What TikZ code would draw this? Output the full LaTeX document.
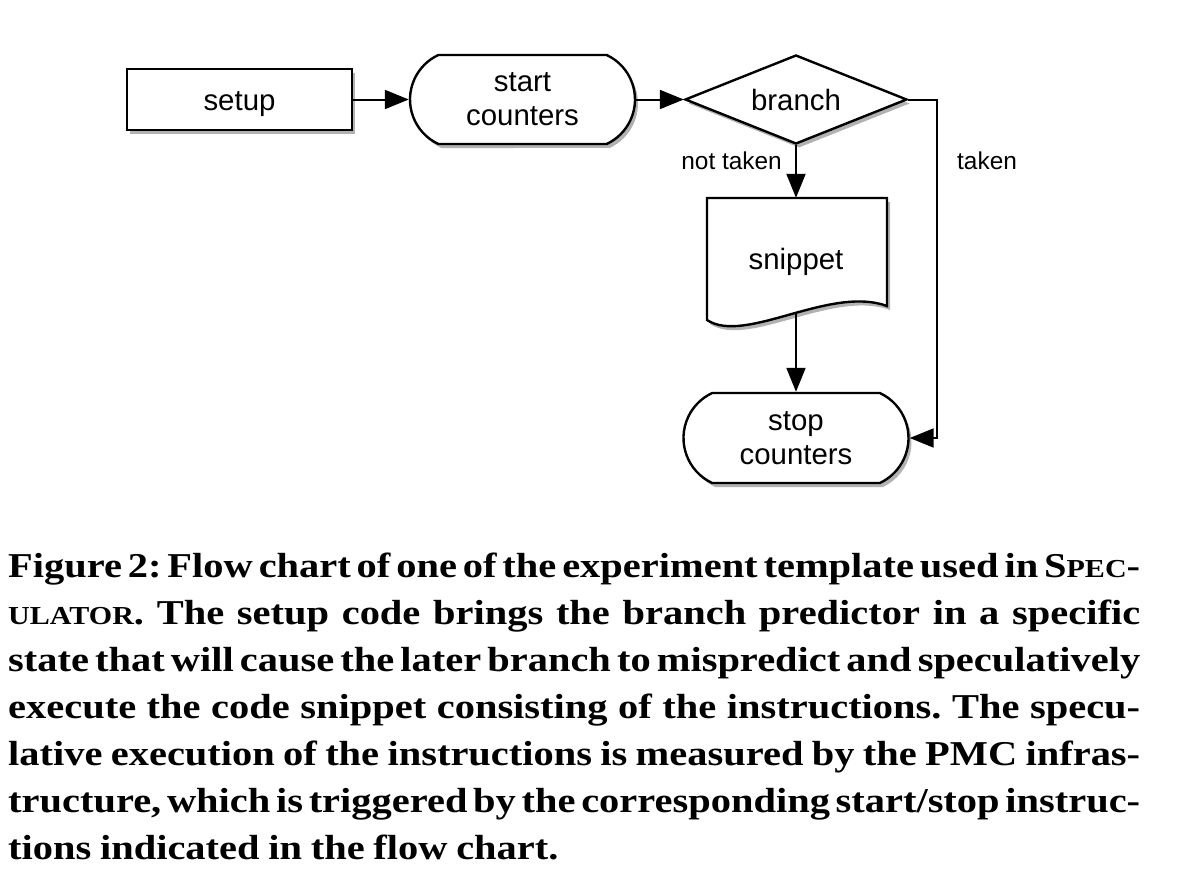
\documentclass[tikz,border=0pt]{standalone}
\usepackage{fontspec}
\setmainfont{Liberation Serif}[FakeStretch=1.16]
\newfontfamily\lsans{Liberation Sans}
\usetikzlibrary{arrows.meta,shapes.geometric,shapes.misc,shadows}
\newcommand\boxfont{\lsans\fontsize{29.5}{34}\selectfont}
\newcommand\lblfont{\lsans\fontsize{24.5}{28}\selectfont}
\newcommand\capfont{\bfseries\frenchspacing\fontsize{35}{47}\selectfont\spaceskip=.25em plus .3em minus .12em\relax}
\newcommand\fsc[1]{{\fontsize{26}{26}\selectfont #1}}
\newcommand\capline[1]{\hbox to 1132bp{#1}}
\begin{document}
\begin{tikzpicture}[x=1bp,y=-1bp,
  shadowed/.style={drop shadow={shadow xshift=3bp,shadow yshift=-4bp,opacity=0.3,fill=black}},
  boxstyle/.style={draw,line width=2.4bp,fill=white,font=\boxfont,align=center,inner sep=0pt,shadowed},
  pillbox/.style={boxstyle,rounded rectangle,rounded rectangle arc length=130},
  conn/.style={line width=2bp,-{Triangle[length=24bp,width=19bp]}},
  lbl/.style={font=\lblfont,inner sep=0pt},
  capl/.style={anchor=base west,inner sep=0pt,font=\capfont}]
\useasboundingbox (0,0) rectangle (1198,886);
\fill[white] (0,0) rectangle (1198,886);

% nodes
\node[boxstyle,rectangle,minimum width=225bp,minimum height=61bp] (setup) at (239.5,99.5) {\raisebox{-11bp}[0pt][0pt]{setup}};
\node[pillbox,minimum width=225bp,minimum height=89bp] (start) at (522.5,99.5) {start\\counters};
\node[boxstyle,diamond,aspect=2.5,minimum width=222bp,minimum height=89bp] (branch) at (796,99.5) {branch};

% snippet document shape
\fill[black,opacity=0.3,xshift=3bp,yshift=-4bp] (707,198) -- (887,198) -- (887,306) .. controls (830,285) and (745,345) .. (707,320) -- cycle;
\draw[line width=2.4bp,fill=white] (707,198) -- (887,198) -- (887,306) .. controls (830,285) and (745,345) .. (707,320) -- cycle;
\node[draw=none,minimum width=180bp,minimum height=128bp,font=\boxfont,inner sep=0pt] (snip) at (796,262) {snippet};
\coordinate (snipbot) at (796,313);

\node[pillbox,minimum width=225bp,minimum height=90bp] (stop) at (796,438) {stop\\counters};

% connectors
\draw[conn] (setup.east) -- (start.west);
\draw[conn] (start.east) -- (branch.west);
\draw[conn] (branch.south) -- (snip.north);
\draw[conn] (snipbot) -- (stop.north);
\coordinate (tk) at (937,99.5);
\draw[conn] (branch.east) -- (tk) |- (stop.east);

\node[lbl,anchor=east] (nt) at (782,161) {not taken};
\node[lbl,anchor=west] (tt) at (957,161) {taken};

% caption
\node[capl] (c1) at (8,577) {\capline{Figure 2: Flow chart of one of the experiment template used in S\fsc{PEC}-}};
\node[capl] (c2) at (8,624) {\capline{\fsc{ULATOR}. The setup code brings the branch predictor in a specific}};
\node[capl] (c3) at (8,671) {\capline{state that will cause the later branch to mispredict and speculatively}};
\node[capl] (c4) at (8,718) {\capline{execute the code snippet consisting of the instructions. The specu-}};
\node[capl] (c5) at (8,765) {\capline{lative execution of the instructions is measured by the PMC infras-}};
\node[capl] (c6) at (8,812) {\capline{tructure, which is triggered by the corresponding start/stop instruc-}};
\node[capl] (c7) at (8,859) {tions indicated in the flow chart.};
\end{tikzpicture}
\end{document}
